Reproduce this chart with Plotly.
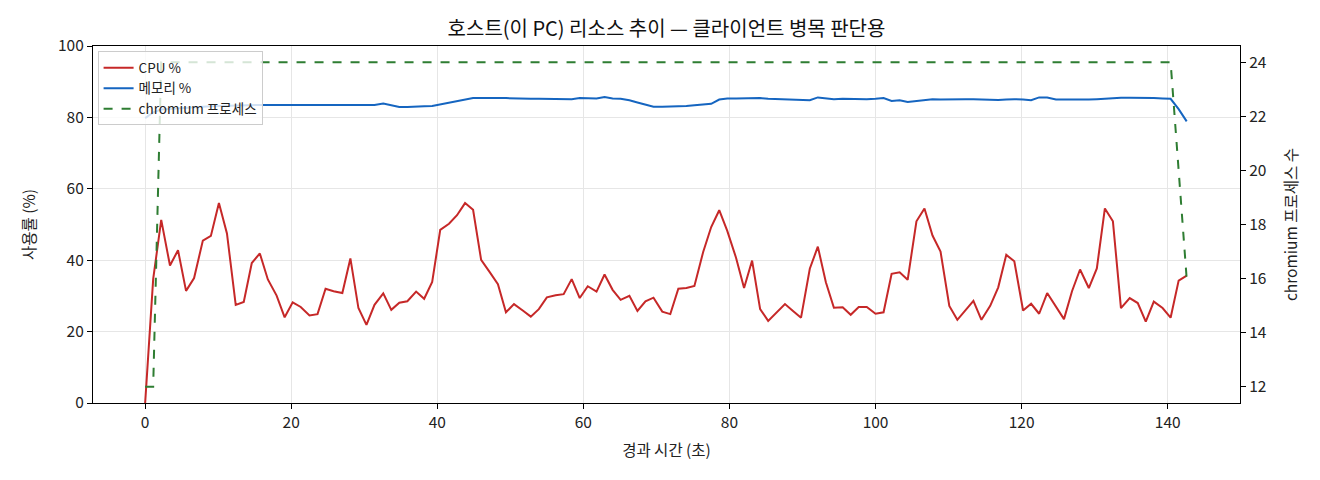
import plotly.graph_objects as go

elapsed_s = [
    0.0, 1.1, 2.2, 3.4, 4.5, 5.6, 6.7, 7.9, 9.0, 10.1, 11.2, 12.4, 13.5, 14.6, 15.7, 16.8,
    18.0, 19.1, 20.2, 21.3, 22.5, 23.6, 24.7, 25.8, 27.0, 28.1, 29.2, 30.3, 31.4, 32.6, 33.7, 34.8,
    35.9, 37.1, 38.2, 39.3, 40.4, 41.6, 42.7, 43.8, 44.9, 46.0, 47.2, 48.3, 49.4, 50.5, 51.7, 52.8,
    53.9, 55.0, 56.2, 57.3, 58.4, 59.5, 60.6, 61.8, 62.9, 64.0, 65.1, 66.3, 67.4, 68.5, 69.6, 70.8,
    71.9, 73.0, 74.1, 75.2, 76.4, 77.5, 78.6, 79.7, 80.9, 82.0, 83.1, 84.2, 85.3, 86.5, 87.6, 88.7,
    89.8, 91.0, 92.1, 93.2, 94.3, 95.5, 96.6, 97.7, 98.8, 100.0, 101.1, 102.2, 103.3, 104.4, 105.6, 106.7,
    107.8, 108.9, 110.1, 111.2, 112.3, 113.4, 114.5, 115.7, 116.8, 117.9, 119.0, 120.2, 121.3, 122.4, 123.5, 124.7,
    125.8, 126.9, 128.0, 129.2, 130.3, 131.4, 132.5, 133.6, 134.8, 135.9, 137.0, 138.1, 139.3, 140.4, 141.5, 142.6,
]

cpu_pct = [
    0.0, 34.7, 51.3, 38.5, 42.8, 31.4, 35.0, 45.5, 46.8, 56.0, 47.5, 27.5, 28.3, 39.2, 41.9, 34.6,
    30.1, 24.0, 28.2, 26.9, 24.5, 24.9, 32.0, 31.3, 30.8, 40.5, 26.6, 21.9, 27.5, 30.7, 26.1, 28.1,
    28.5, 31.2, 29.2, 33.9, 48.5, 50.2, 52.6, 56.0, 54.1, 40.1, 36.6, 33.3, 25.4, 27.7, 25.9, 24.2,
    26.3, 29.6, 30.2, 30.5, 34.7, 29.4, 32.7, 31.2, 36.0, 31.7, 28.9, 30.0, 25.8, 28.5, 29.5, 25.6,
    24.9, 32.0, 32.2, 32.8, 42.3, 49.3, 54.0, 48.2, 40.7, 32.2, 39.9, 26.3, 23.0, 25.4, 27.7, 25.8,
    23.9, 37.6, 43.8, 33.8, 26.7, 26.8, 24.7, 26.9, 26.9, 25.0, 25.4, 36.2, 36.6, 34.5, 50.9, 54.5,
    46.9, 42.4, 27.2, 23.3, 25.8, 28.6, 23.3, 27.2, 32.4, 41.5, 39.7, 25.9, 27.8, 25.0, 30.8, 26.9,
    23.5, 31.3, 37.4, 32.2, 37.7, 54.5, 50.9, 26.6, 29.4, 28.0, 22.8, 28.4, 26.6, 23.9, 34.3, 35.7,
]

mem_pct = [
    79.8, 81.4, 82.2, 82.4, 82.6, 82.7, 82.9, 83.0, 83.1, 83.2, 83.3, 83.4, 83.4, 83.5, 83.5, 83.5,
    83.5, 83.6, 83.5, 83.5, 83.4, 83.5, 83.4, 83.5, 83.5, 83.4, 83.5, 83.4, 83.5, 83.9, 83.3, 82.9,
    82.9, 82.9, 83.1, 83.2, 83.6, 84.0, 84.5, 85.0, 85.4, 85.4, 85.5, 85.4, 85.4, 85.3, 85.3, 85.2,
    85.2, 85.2, 85.2, 85.1, 85.1, 85.4, 85.4, 85.3, 85.7, 85.3, 85.2, 84.8, 84.2, 83.5, 83.0, 83.0,
    83.0, 83.1, 83.2, 83.4, 83.6, 83.8, 85.0, 85.3, 85.3, 85.4, 85.4, 85.4, 85.2, 85.1, 85.1, 85.0,
    84.9, 84.8, 85.6, 85.4, 85.1, 85.2, 85.1, 85.1, 85.1, 85.2, 85.4, 84.6, 84.8, 84.3, 84.6, 85.0,
    85.1, 85.0, 85.1, 85.1, 85.1, 85.1, 85.0, 84.8, 84.9, 85.0, 85.1, 85.0, 84.8, 85.6, 85.6, 85.0,
    85.0, 84.8, 84.9, 85.0, 85.1, 85.3, 85.4, 85.5, 85.5, 85.4, 85.4, 85.4, 85.3, 85.2, 82.3, 78.9,
]

chromium_procs = [12, 12] + [24] * 124 + [20, 16]

title_text = "호스트(이 PC) 리소스 추이 — 클라이언트 병목 판단용"
x_title = "경과 시간 (초)"
y_title = "사용률 (%)"
y2_title = "chromium 프로세스 수"
x_ticks = [0, 20, 40, 60, 80, 100, 120, 140]
y_ticks = [0, 20, 40, 60, 80, 100]
y2_ticks = [12, 14, 16, 18, 20, 22, 24]

FONT = "Noto Sans CJK KR"
GRID = "#e6e6e6"
TICKF = 15.5

fig = go.Figure()
fig.add_trace(go.Scatter(x=elapsed_s, y=cpu_pct, name="CPU %", mode="lines",
                         line=dict(color="#c62828", width=2)))
fig.add_trace(go.Scatter(x=elapsed_s, y=mem_pct, name="메모리 %", mode="lines",
                         line=dict(color="#1565c0", width=2)))
fig.add_trace(go.Scatter(x=elapsed_s, y=chromium_procs, name="chromium 프로세스", mode="lines",
                         yaxis="y2", line=dict(color="#2e7d32", width=2, dash="dash")))

fig.update_layout(
    width=1320, height=480,
    paper_bgcolor="white", plot_bgcolor="white",
    margin=dict(l=85, r=88, t=38, b=85),
    font=dict(family=FONT, color="#222", size=TICKF),
    title=dict(text=title_text, x=(85 + 1232) / 2 / 1320, xanchor="center",
               y=1 - 21 / 480, yanchor="middle", font=dict(size=20, color="#111")),
    showlegend=True,
    legend=dict(x=0.004, y=0.985, xanchor="left", yanchor="top",
                bgcolor="rgba(255,255,255,0.8)", bordercolor="#cccccc", borderwidth=1,
                font=dict(size=13.5, color="#222"), tracegroupgap=0, itemwidth=30),
    xaxis=dict(range=[-7.14, 149.9], tickvals=x_ticks, showgrid=True, gridcolor=GRID,
               showline=True, linecolor="black", linewidth=1.2, mirror=True,
               ticks="outside", ticklen=5, tickcolor="black", zeroline=False,
               title=dict(text=x_title, font=dict(size=TICKF), standoff=14),
               tickfont=dict(size=TICKF)),
    yaxis=dict(range=[0, 100], tickvals=y_ticks, showgrid=True, gridcolor=GRID,
               showline=True, linecolor="black", linewidth=1.2,
               ticks="outside", ticklen=5, tickcolor="black", zeroline=False,
               title=dict(text=y_title, font=dict(size=TICKF), standoff=18),
               tickfont=dict(size=TICKF)),
    yaxis2=dict(range=[11.4, 24.6], tickvals=y2_ticks, overlaying="y", side="right",
                showgrid=False, showline=True, linecolor="black", linewidth=1.2,
                ticks="outside", ticklen=5, tickcolor="black", zeroline=False,
                title=dict(text=y2_title, font=dict(size=TICKF), standoff=20),
                tickfont=dict(size=TICKF)),
)

fig.write_html("out.html")
